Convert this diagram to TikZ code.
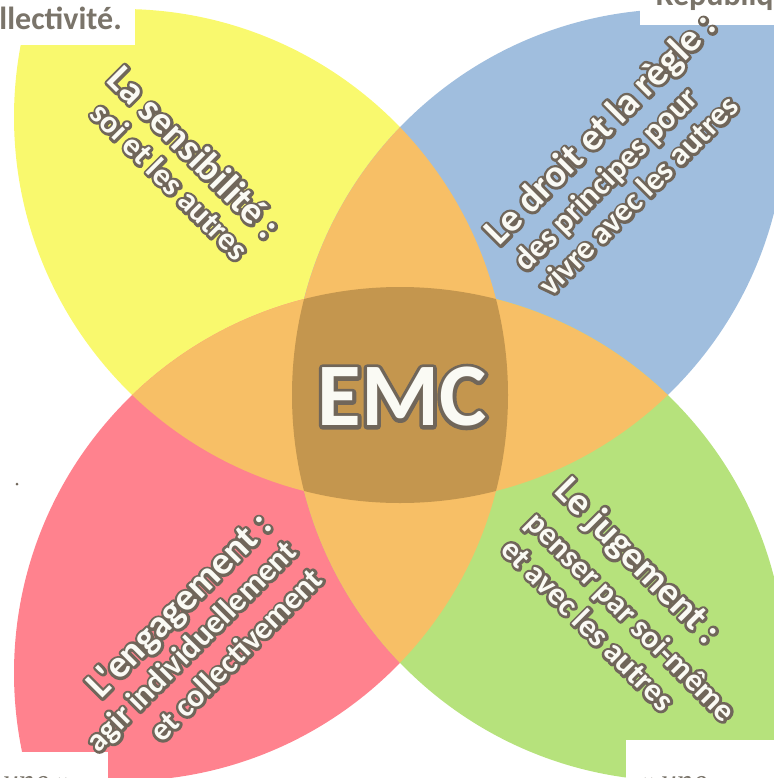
\documentclass[tikz,border=0pt]{standalone}
\usepackage{fontspec}
\setmainfont{Carlito}
\newfontfamily\handfont{Liberation Serif}

\definecolor{petalyellow}{RGB}{249,249,110}
\definecolor{petalblue}{RGB}{160,190,222}
\definecolor{petalred}{RGB}{255,130,142}
\definecolor{petalgreen}{RGB}{182,226,124}
\definecolor{overlaporange}{RGB}{247,191,102}
\definecolor{coredark}{RGB}{196,150,78}
\definecolor{outlinegray}{RGB}{112,102,90}
\definecolor{labelwhite}{RGB}{250,250,244}
\definecolor{cornergray}{RGB}{122,116,106}

% white letters with a gray rim: stroked copy below, filled copy above
\newcommand{\ringed}[2][4]{\leavevmode\rlap{\special{pdf:literal direct 1 Tr 1 j #1 w 0.439 0.4 0.353 RG}#2\special{pdf:literal direct 0 Tr}}#2}

\tikzset{
	petal head/.style={inner sep=0pt, text=labelwhite, font=\bfseries\fontsize{29}{30}\selectfont},
	petal line/.style={inner sep=0pt, text=labelwhite, font=\bfseries\fontsize{24}{25}\selectfont},
	corner text/.style={inner sep=0pt, text=cornergray, font=\bfseries\fontsize{24}{24}\selectfont},
	hand text/.style={inner sep=0pt, text=cornergray, font=\handfont\itshape\fontsize{24}{24}\selectfont}}
\tikzset{every picture/.style={line width=0.75pt}}

\begin{document}
\begin{tikzpicture}[x=0.75pt,y=0.75pt,yscale=-1,xscale=1]
	\useasboundingbox (0,0) rectangle (774,778);
	\clip (0,0) rectangle (774,778);

	%Shape: Petal yellow (top circle and left circle)
	\begin{scope}
		\clip (400,117) circle (386);
		\clip (122,395) circle (386);
		\fill [petalyellow] (0,0) rectangle (774,778);
	\end{scope}
	%Shape: Petal blue (top circle and right circle)
	\begin{scope}
		\clip (400,117) circle (386);
		\clip (678,395) circle (386);
		\fill [petalblue] (0,0) rectangle (774,778);
	\end{scope}
	%Shape: Petal red (bottom circle and left circle)
	\begin{scope}
		\clip (400,673) circle (386);
		\clip (122,395) circle (386);
		\fill [petalred] (0,0) rectangle (774,778);
	\end{scope}
	%Shape: Petal green (bottom circle and right circle)
	\begin{scope}
		\clip (400,673) circle (386);
		\clip (678,395) circle (386);
		\fill [petalgreen] (0,0) rectangle (774,778);
	\end{scope}
	%Shape: Lens vertical (left circle and right circle)
	\begin{scope}
		\clip (122,395) circle (386);
		\fill [overlaporange] (678,395) circle (386);
	\end{scope}
	%Shape: Lens horizontal (top circle and bottom circle)
	\begin{scope}
		\clip (400,117) circle (386);
		\fill [overlaporange] (400,673) circle (386);
	\end{scope}
	%Shape: Core (all four circles)
	\begin{scope}
		\clip (122,395) circle (386);
		\clip (678,395) circle (386);
		\clip (400,117) circle (386);
		\fill [coredark] (400,673) circle (386);
	\end{scope}

	% Corner boxes
	\fill [white] (0,0) rectangle (135,45);
	\fill [white] (640,0) rectangle (774,25);
	\fill [white] (0,752) rectangle (108,778);
	\fill [white] (626,740) rectangle (774,778);
	\fill [outlinegray] (17,484) circle (1.5);

	% Text Node
	\node [corner text, anchor=base west] (collect) at (-1,29) {llectivité.};
	% Text Node
	\node [corner text, anchor=base west] (repub) at (655,6) {Républiq};
	% Text Node
	\node [hand text, anchor=base west] (uneleft) at (2,791) {une »};
	% Text Node
	\node [hand text, anchor=base west] (uneright) at (636,791) {« une};

	% Text Node
	\node (emc) at (402,397) [inner sep=0pt, text=labelwhite, font=\bfseries\fontsize{67}{67}\selectfont] {\ringed[5.5]{EMC}};

	% Text Node
	\node [petal head, rotate=-45] (sens1) at (195,152) {\ringed{La sensibilité :}};
	\node [petal line, rotate=-45] (sens2) at (170,181) {\ringed{soi et les autres}};
	% Text Node
	\node [petal head, rotate=45, anchor=west] (droit1) at (492,240) {\ringed{Le droit et la règle :}};
	\node [petal line, rotate=45, anchor=west] (droit2) at (520,267) {\ringed{des principes pour}};
	\node [petal line, rotate=45, anchor=west] (droit3) at (543,290) {\ringed{vivre avec les autres}};
	% Text Node
	\node [petal head, rotate=45, anchor=east] (engag1) at (267,520) {\ringed{L\textquotesingle engagement :}};
	\node [petal line, rotate=45, anchor=east] (engag2) at (293,547) {\ringed{agir individuellement}};
	\node [petal line, rotate=45, anchor=east] (engag3) at (317,573) {\ringed{et collectivement}};
	% Text Node
	\node [petal head, rotate=-45, anchor=west] (juge1) at (560,485) {\ringed{Le jugement :}};
	\node [petal line, rotate=-45, anchor=west] (juge2) at (530,518) {\ringed{penser par soi-même}};
	\node [petal line, rotate=-45, anchor=west] (juge3) at (507,543) {\ringed{et avec les autres}};
\end{tikzpicture}
\end{document}
